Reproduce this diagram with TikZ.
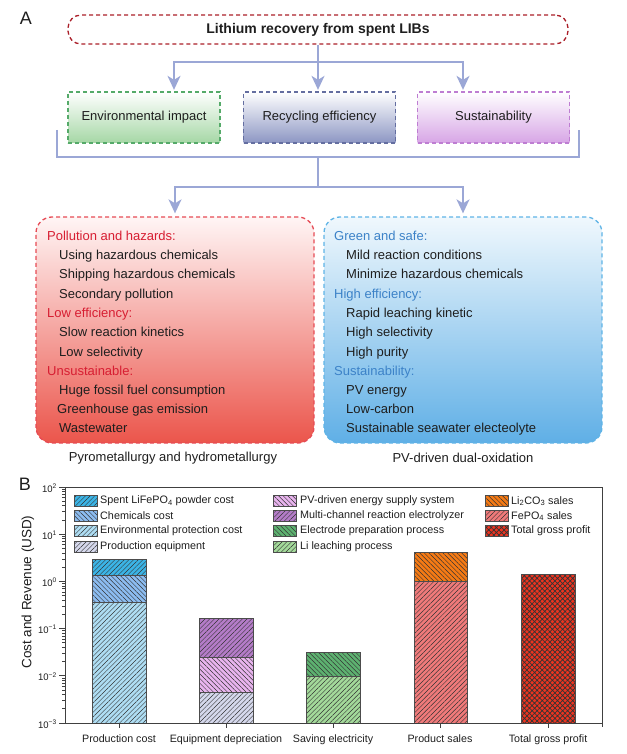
\documentclass[tikz,border=0pt]{standalone}
\usepackage{fontspec}
\setmainfont{Liberation Sans}
\usetikzlibrary{arrows.meta,patterns.meta}
\definecolor{darkredc}{RGB}{170,30,40}
\definecolor{arrowc}{RGB}{155,167,214}
\definecolor{greenD}{RGB}{85,170,105}
\definecolor{greenB}{RGB}{165,215,165}
\definecolor{slateD}{RGB}{100,110,160}
\definecolor{slateB}{RGB}{140,150,195}
\definecolor{purpD}{RGB}{190,125,210}
\definecolor{purpB}{RGB}{215,165,230}
\definecolor{redD}{RGB}{230,75,85}
\definecolor{redT}{RGB}{255,245,245}
\definecolor{redB}{RGB}{235,85,75}
\definecolor{blueD}{RGB}{95,180,230}
\definecolor{blueT}{RGB}{240,248,253}
\definecolor{blueB}{RGB}{95,175,230}
\definecolor{redH}{RGB}{215,30,50}
\definecolor{blueH}{RGB}{60,130,200}
\definecolor{txt}{RGB}{30,30,30}
\definecolor{cSpent}{RGB}{59,180,230}
\definecolor{cChem}{RGB}{140,188,240}
\definecolor{cEnv}{RGB}{174,221,243}
\definecolor{cEquip}{RGB}{213,216,236}
\definecolor{cPV}{RGB}{232,180,238}
\definecolor{cMulti}{RGB}{180,124,200}
\definecolor{cElec}{RGB}{93,177,112}
\definecolor{cLi}{RGB}{163,217,154}
\definecolor{cLiCO}{RGB}{245,122,20}
\definecolor{cFe}{RGB}{240,122,122}
\definecolor{cTot}{RGB}{236,52,32}
\newcommand\mybarseg[6]{%
  \fill[#5] (#1,#3) rectangle (#2,#4);
  \fill[pattern={Lines[angle=#6,distance=3.3pt,line width=0.45pt]},pattern color=black!80] (#1,#3) rectangle (#2,#4);
  \draw[barline] (#1,#3) rectangle (#2,#4);}
\begin{document}
\begin{tikzpicture}[x=1pt,y=-1pt,
  conn/.style={draw=arrowc, line width=1.8pt},
  arr/.style={conn, -{Stealth[width=13pt,length=14pt,inset=4pt]}},
  dsh/.style={dash pattern=on 4pt off 3pt, line width=1.3pt},
  titlebox/.style={dsh, draw=darkredc, rounded corners=13pt, minimum width=500pt, minimum height=29pt, font=\fontsize{14}{16}\selectfont\bfseries, text=txt},
  catbox/.style={dsh, minimum width=152pt, minimum height=51pt, font=\fontsize{13}{15}\selectfont, text=txt, top color=white},
  bigbox/.style={dsh, rounded corners=16pt, minimum width=278pt, minimum height=226pt},
  item/.style={anchor=base west, inner sep=0pt, font=\fontsize{13}{15}\selectfont, text=txt},
  hdrR/.style={item, text=redH},
  hdrB/.style={item, text=blueH},
  capt/.style={font=\fontsize{13}{15}\selectfont, text=txt, inner sep=0pt},
  panel/.style={font=\fontsize{18}{20}\selectfont, text=txt, inner sep=0pt},
  axis/.style={draw=black!75, line width=0.9pt},
  barline/.style={draw=black!70, line width=0.7pt},
  ticklab/.style={font=\fontsize{9.5}{11}\selectfont, text=txt, inner sep=0pt, anchor=east},
  xlab/.style={font=\fontsize{10.7}{12}\selectfont, text=txt, inner sep=0pt, anchor=base},
  leg/.style={font=\fontsize{10.8}{12}\selectfont, text=txt, inner sep=0pt, anchor=west}
]
\useasboundingbox (0,0) rectangle (626,754);

% ---------- Panel A ----------
\node[panel] (labA) at (26,18) {A};
\node[titlebox] (title) at (318,29.5) {Lithium recovery from spent LIBs};
\node[catbox, draw=greenD, bottom color=greenB] (env) at (144,117.5) {Environmental impact};
\node[catbox, draw=slateD, bottom color=slateB] (rec) at (319.5,117.5) {Recycling efficiency};
\node[catbox, draw=purpD, bottom color=purpB] (sus) at (493.5,117.5) {Sustainability};

\coordinate (j1) at (318,62);
\draw[conn] (title.south) -- (j1);
\draw[arr, shorten >=1.5pt] (j1) -| ([xshift=30pt]env.north);
\draw[arr, shorten >=1.5pt] (j1) -- (j1 |- rec.north);
\draw[arr, shorten >=1.5pt] (j1) -| ([xshift=-30.5pt]sus.north);

\node[bigbox, draw=redD, top color=redT, bottom color=redB] (red) at (175,330) {};
\node[bigbox, draw=blueD, top color=blueT, bottom color=blueB] (blue) at (463,330) {};

\coordinate (bl) at (57,130);
\coordinate (br) at (579,130);
\coordinate (j2) at (318,157);
\coordinate (j3) at (318,187);
\draw[conn] (bl) |- (br |- j2) -- (br);
\draw[conn] (j2) -- (j3);
\draw[arr, shorten >=3pt] (j3) -| (red.north);
\draw[arr, shorten >=3pt] (j3) -| (blue.north);

% red box text
\node[hdrR] (r1) at (47,240.6) {Pollution and hazards:};
\node[item] (r2) at (59,259.6) {Using hazardous chemicals};
\node[item] (r3) at (59,278.6) {Shipping hazardous chemicals};
\node[item] (r4) at (59,298.6) {Secondary pollution};
\node[hdrR] (r5) at (47,317.6) {Low efficiency:};
\node[item] (r6) at (59,336.6) {Slow reaction kinetics};
\node[item] (r7) at (59,356.6) {Low selectivity};
\node[hdrR] (r8) at (47,375.6) {Unsustainable:};
\node[item] (r9) at (59,394.6) {Huge fossil fuel consumption};
\node[item] (r10) at (57,413.6) {Greenhouse gas emission};
\node[item] (r11) at (59,432.6) {Wastewater};

% blue box text
\node[hdrB] (b1) at (334,240.6) {Green and safe:};
\node[item] (b2) at (346,259.6) {Mild reaction conditions};
\node[item] (b3) at (346,278.6) {Minimize hazardous chemicals};
\node[hdrB] (b4) at (334,298.6) {High efficiency:};
\node[item] (b5) at (346,317.6) {Rapid leaching kinetic};
\node[item] (b6) at (346,336.6) {High selectivity};
\node[item] (b7) at (346,356.6) {High purity};
\node[hdrB] (b8) at (334,375.6) {Sustainability:};
\node[item] (b9) at (346,394.6) {PV energy};
\node[item] (b10) at (346,413.6) {Low-carbon};
\node[item] (b11) at (346,432.6) {Sustainable seawater electeolyte};

\node[capt] (capR) at (173,458) {Pyrometallurgy and hydrometallurgy};
\node[capt] (capB) at (463,458) {PV-driven dual-oxidation};

% ---------- Panel B ----------
\node[panel] (labB) at (25,484.5) {B};

% bars
\mybarseg{92}{146}{602}{723}{cEnv}{45}
\mybarseg{92}{146}{575}{602}{cChem}{-45}
\mybarseg{92}{146}{559}{575}{cSpent}{45}

\mybarseg{199}{253}{692}{723}{cEquip}{45}
\mybarseg{199}{253}{657}{692}{cPV}{-45}
\mybarseg{199}{253}{618}{657}{cMulti}{45}

\mybarseg{306}{360}{676}{723}{cLi}{45}
\mybarseg{306}{360}{652}{676}{cElec}{-45}

\mybarseg{414}{467}{581}{723}{cFe}{45}
\mybarseg{414}{467}{552}{581}{cLiCO}{-45}

\fill[cTot] (521,574) rectangle (575,723);
\fill[pattern={Hatch[angle=45,distance=3.6pt,line width=0.7pt]},pattern color=black!80] (521,574) rectangle (575,723);
\draw[barline] (521,574) rectangle (575,723);

% axes
\draw[axis] (65,487) rectangle (602,723);
\draw[axis] (602,723) -- (602,727);
\foreach \d/\lab in {0/{−3},1/{−2},2/{−1},3/0,4/1,5/2}{
  \draw[axis] (59,723-47.2*\d) -- (65,723-47.2*\d);
  \node[ticklab] (yt\d) at (57,724-47.2*\d) {10\textsuperscript{\lab}};
}
\foreach \d in {0,...,4}{
  \foreach \k in {2,...,9}{
    \draw[axis, line width=0.7pt] (62,{723-47.2*(\d+log10(\k))}) -- (65,{723-47.2*(\d+log10(\k))});
  }
}
\foreach \xc in {119,226,333,440,548}{
  \draw[axis] (\xc,723) -- (\xc,728);
}
\node[font=\fontsize{13.5}{15}\selectfont, text=txt, rotate=90, inner sep=0pt] (ylab) at (28,592) {Cost and Revenue (USD)};

\node[xlab] (x1) at (119,742.5) {Production cost};
\node[xlab] (x2) at (226,742.5) {Equipment depreciation};
\node[xlab] (x3) at (333,742.5) {Saving electricity};
\node[xlab] (x4) at (440,742.5) {Product sales};
\node[xlab] (x5) at (548,742.5) {Total gross profit};

% legend
\mybarseg{74}{97}{495.5}{506.5}{cSpent}{45}
\mybarseg{74}{97}{510.5}{521.5}{cChem}{-45}
\mybarseg{74}{97}{525.5}{536.5}{cEnv}{45}
\mybarseg{74}{97}{541.5}{552.5}{cEquip}{45}
\node[leg] (l1) at (100,501) {Spent LiFePO\textsubscript{4} powder cost};
\node[leg] (l2) at (100,516) {Chemicals cost};
\node[leg] (l3) at (100,531) {Environmental protection cost};
\node[leg] (l4) at (100,547) {Production equipment};

\mybarseg{273}{296}{495.5}{506.5}{cPV}{-45}
\mybarseg{273}{296}{510.5}{521.5}{cMulti}{45}
\mybarseg{273}{296}{525.5}{536.5}{cElec}{-45}
\mybarseg{273}{296}{541.5}{552.5}{cLi}{45}
\node[leg] (l5) at (300,501) {PV-driven energy supply system};
\node[leg] (l6) at (300,516) {Multi-channel reaction electrolyzer};
\node[leg] (l7) at (300,531) {Electrode preparation process};
\node[leg] (l8) at (300,547) {Li leaching process};

\mybarseg{485}{508}{495.5}{506.5}{cLiCO}{-45}
\mybarseg{485}{508}{510.5}{521.5}{cFe}{45}
\fill[cTot] (485,525.5) rectangle (508,536.5);
\fill[pattern={Hatch[angle=45,distance=3.6pt,line width=0.7pt]},pattern color=black!80] (485,525.5) rectangle (508,536.5);
\draw[barline] (485,525.5) rectangle (508,536.5);
\node[leg] (l9) at (511,501) {Li\textsubscript{2}CO\textsubscript{3} sales};
\node[leg] (l10) at (511,516) {FePO\textsubscript{4} sales};
\node[leg] (l11) at (511,531) {Total gross profit};
\end{tikzpicture}
\end{document}
